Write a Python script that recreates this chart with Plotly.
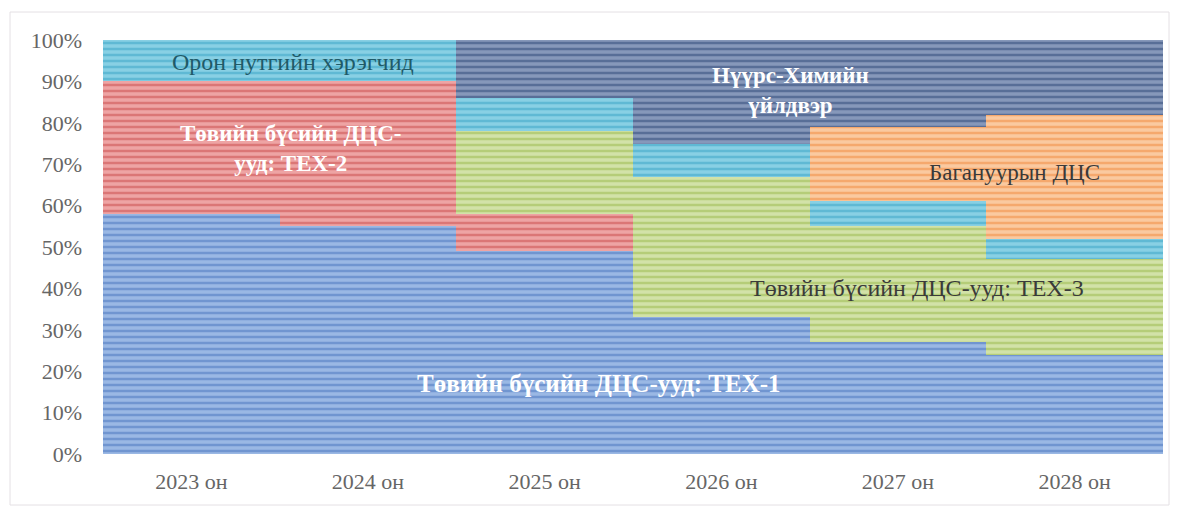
import plotly.graph_objects as go

years = ["2023 он", "2024 он", "2025 он", "2026 он", "2027 он", "2028 он"]

tex1 = [58, 55, 49, 33, 27, 24]
tex2 = [32, 35, 9, 0, 0, 0]
tex3 = [0, 0, 20, 34, 28, 23]
local = [10, 10, 8, 8, 6, 5]
baganuur = [0, 0, 0, 0, 18, 30]
coalchem = [0, 0, 14, 25, 21, 18]

series_names = ["Төвийн бүсийн ДЦС-ууд: ТЕХ-1", "Төвийн бүсийн ДЦС-ууд: ТЕХ-2",
                "Төвийн бүсийн ДЦС-ууд: ТЕХ-3", "Орон нутгийн хэрэгчид",
                "Багануурын ДЦС", "Нүүрс-Химийн үйлдвэр"]
series_values = [tex1, tex2, tex3, local, baganuur, coalchem]
light_colors = ["#9ab8e4", "#eea4a4", "#d2e2a8", "#88d0e4", "#fac9a0", "#8698ba"]
dark_colors = ["#4672bc", "#c84848", "#98b848", "#36a2c4", "#f0883a", "#2a4474"]

fig = go.Figure()
for name, vals, lc, dc in zip(series_names, series_values, light_colors, dark_colors):
    fig.add_trace(go.Bar(
        x=years, y=vals, name=name,
        marker=dict(color=lc, line=dict(width=0),
                    pattern=dict(shape="-", fgcolor=dc, size=6, solidity=0.42,
                                 fillmode="overlay")),
        hoverinfo="name+y",
    ))

serif = "Liberation Serif, Times New Roman, serif"
labels = [
    dict(x=0.575, y=94.7, text="Орон нутгийн хэрэгчид", color="#1f5a68", bold=False, size=24),
    dict(x=0.56, y=73.7, text="Төвийн бүсийн ДЦС-<br>ууд: ТЕХ-2", color="white", bold=True, size=23),
    dict(x=3.39, y=87.7, text="Нүүрс-Химийн<br>үйлдвэр", color="white", bold=True, size=23),
    dict(x=4.66, y=68.1, text="Багануурын ДЦС", color="#3a3a3a", bold=False, size=23),
    dict(x=4.11, y=40.1, text="Төвийн бүсийн ДЦС-ууд: ТЕХ-3", color="#3a3a3a", bold=False, size=24),
    dict(x=2.31, y=17.1, text="Төвийн бүсийн ДЦС-ууд: ТЕХ-1", color="white", bold=True, size=25),
]
for lb in labels:
    txt = f"<b>{lb['text']}</b>" if lb["bold"] else lb["text"]
    fig.add_annotation(x=lb["x"], y=lb["y"], xref="x", yref="y", text=txt,
                       showarrow=False, font=dict(family=serif, size=lb["size"], color=lb["color"]),
                       align="center")

W, H = 1181, 506
l, r, t, b = 103, 18, 40, 52
pw, ph = W - l - r, H - t - b
def px2paper_x(px):
    return (px - l) / pw
def px2paper_y(py):
    return (H - b - py) / ph

fig.add_shape(type="rect", xref="paper", yref="paper",
              x0=px2paper_x(10), x1=px2paper_x(1169), y0=px2paper_y(505), y1=px2paper_y(12),
              line=dict(color="#e4e0e4", width=1), fillcolor="rgba(0,0,0,0)", layer="below")

fig.update_layout(
    barmode="stack", bargap=0,
    width=W, height=H,
    margin=dict(l=l, r=r, t=t, b=b),
    paper_bgcolor="white", plot_bgcolor="white",
    showlegend=False,
    font=dict(family=serif, size=22, color="#666666"),
    xaxis=dict(showgrid=False, showline=False, zeroline=False, ticks="",
               ticklabelstandoff=12,
               tickfont=dict(family=serif, size=22, color="#666666")),
    yaxis=dict(range=[0, 100], tickvals=list(range(0, 101, 10)),
               ticktext=[f"{v}%" for v in range(0, 101, 10)],
               showgrid=False, showline=False, zeroline=False, ticks="",
               ticklabelstandoff=20,
               tickfont=dict(family=serif, size=22, color="#666666")),
)

fig.write_html("out.html")
